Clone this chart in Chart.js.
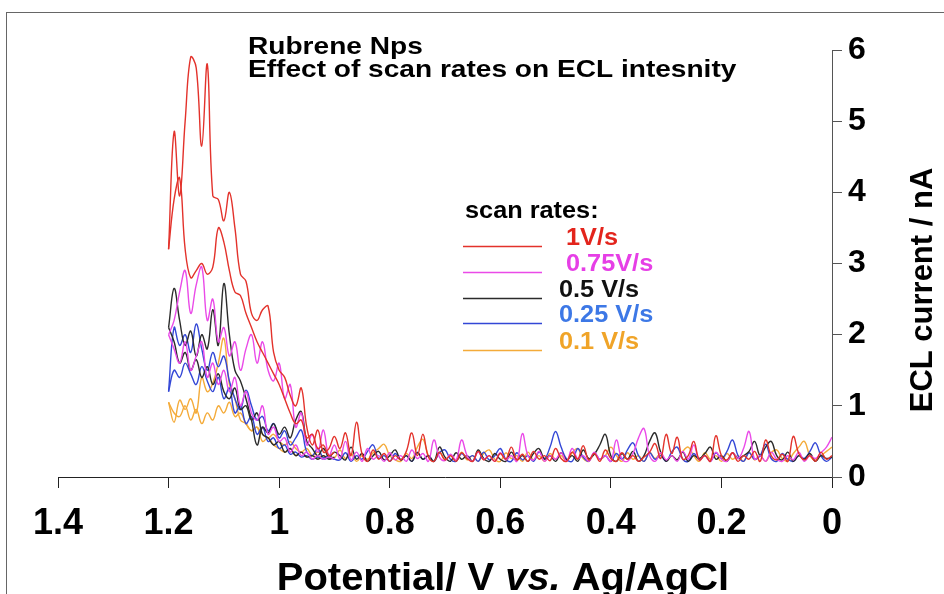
<!DOCTYPE html>
<html lang="en">
  <head>
    <meta charset="utf-8">
    <title>Rubrene Nps ECL</title>
    <style>
      html, body { margin: 0; padding: 0; background: #fff; }
      #wrap { width: 944px; height: 594px; }
    </style>
  </head>
  <body>
    <div id="wrap"><canvas id="myChart" width="944" height="594"></canvas></div>

    <script src="https://cdn.jsdelivr.net/npm/chart.js@4.4.1/dist/chart.umd.min.js"></script>
    <script>
      // potential grid, V vs Ag/AgCl (scan goes 1.2 -> 0)
      const potential = [
        1.20, 1.19, 1.18, 1.17, 1.16, 1.15, 1.14, 1.13, 1.12, 1.11,
        1.10, 1.09, 1.08, 1.07, 1.06, 1.05, 1.04, 1.03, 1.02, 1.01,
        1.00, 0.99, 0.98, 0.97, 0.96, 0.95, 0.94, 0.93, 0.92, 0.91,
        0.90, 0.89, 0.88, 0.87, 0.86, 0.85, 0.84, 0.83, 0.82, 0.81,
        0.80, 0.79, 0.78, 0.77, 0.76, 0.75, 0.74, 0.73, 0.72, 0.71,
        0.70, 0.69, 0.68, 0.67, 0.66, 0.65, 0.64, 0.63, 0.62, 0.61,
        0.60, 0.59, 0.58, 0.57, 0.56, 0.55, 0.54, 0.53, 0.52, 0.51,
        0.50, 0.49, 0.48, 0.47, 0.46, 0.45, 0.44, 0.43, 0.42, 0.41,
        0.40, 0.39, 0.38, 0.37, 0.36, 0.35, 0.34, 0.33, 0.32, 0.31,
        0.30, 0.29, 0.28, 0.27, 0.26, 0.25, 0.24, 0.23, 0.22, 0.21,
        0.20, 0.19, 0.18, 0.17, 0.16, 0.15, 0.14, 0.13, 0.12, 0.11,
        0.10, 0.09, 0.08, 0.07, 0.06, 0.05, 0.04, 0.03, 0.02, 0.01,
        0.00
      ];
      // return branch near the switching potential uses the first 31 points
      const potentialBack = potential.slice(0, 31);

      // ECL current (nA), full trace
      const red = [
        3.2, 4.85, 3.95, 5.0, 5.9, 5.75, 4.65, 5.8, 3.95, 3.9,
        3.6, 4.0, 3.5, 2.85, 2.75, 2.3, 2.2, 2.35, 2.4, 1.75,
        1.5, 1.4, 1.15, 1.0, 1.25, 0.7, 0.45, 0.66, 0.35, 0.4,
        0.57,
        0.4, 0.62, 0.3, 0.77, 0.32, 0.22, 0.38, 0.25, 0.33, 0.22,
        0.3, 0.24, 0.36, 0.62, 0.3, 0.6, 0.28, 0.22, 0.35, 0.24,
        0.3, 0.22, 0.34, 0.26, 0.22, 0.36, 0.24, 0.3, 0.22, 0.33,
        0.25, 0.42, 0.24, 0.32, 0.22, 0.36, 0.25, 0.3, 0.23, 0.4,
        0.26, 0.22, 0.35, 0.25, 0.44, 0.24, 0.33, 0.22, 0.38, 0.26,
        0.22, 0.34, 0.25, 0.3, 0.22, 0.28, 0.35, 0.47, 0.26, 0.6,
        0.33, 0.56, 0.25, 0.3, 0.5, 0.24, 0.3, 0.22, 0.58, 0.3,
        0.24, 0.34, 0.22, 0.3, 0.25, 0.36, 0.22, 0.52, 0.3, 0.24,
        0.32, 0.22, 0.57, 0.33, 0.24, 0.3, 0.22, 0.35, 0.25, 0.3
      ];
      const redBack = [
        3.2, 3.9, 4.2, 3.2, 2.8, 2.9, 3.0, 2.85, 2.95, 3.5,
        3.3, 2.9, 2.6, 2.55, 2.3, 2.1, 1.9, 1.75, 1.6, 1.45,
        1.3, 1.1, 0.9, 0.75, 0.8, 0.55, 0.6, 0.4, 0.45, 0.3,
        0.35
      ];
      const magenta = [
        2.0, 2.2, 2.6, 2.9, 2.3, 2.7, 2.95, 2.2, 2.5, 1.9,
        2.1, 1.7, 1.9, 1.5, 1.8, 2.0, 1.6, 1.9, 1.5, 1.35,
        1.6, 1.1, 1.3, 0.7, 0.9, 0.45, 0.6, 0.35, 0.66, 0.3,
        0.45,
        0.26, 0.5, 0.24, 0.35, 0.22, 0.4, 0.25, 0.3, 0.22, 0.34,
        0.24, 0.3, 0.22, 0.38, 0.26, 0.33, 0.22, 0.52, 0.28, 0.23,
        0.32, 0.24, 0.52, 0.3, 0.22, 0.35, 0.25, 0.3, 0.22, 0.34,
        0.24, 0.3, 0.22, 0.61, 0.3, 0.24, 0.36, 0.22, 0.3, 0.25,
        0.34, 0.22, 0.4, 0.26, 0.3, 0.22, 0.35, 0.25, 0.3, 0.22,
        0.52, 0.25, 0.22, 0.33, 0.55, 0.68, 0.3, 0.22, 0.34, 0.24,
        0.3, 0.22, 0.36, 0.25, 0.45, 0.24, 0.3, 0.22, 0.35, 0.25,
        0.22, 0.34, 0.26, 0.4, 0.64, 0.25, 0.3, 0.22, 0.35, 0.25,
        0.22, 0.3, 0.24, 0.35, 0.22, 0.3, 0.26, 0.34, 0.42, 0.56
      ];
      const magentaBack = [
        2.0, 1.8, 1.6, 1.9, 1.5, 1.7, 1.9, 1.4, 1.6, 1.3,
        1.5, 1.2, 1.4, 1.0, 1.2, 0.9, 0.8, 1.0, 0.6, 0.7,
        0.5, 0.55, 0.35, 0.45, 0.3, 0.35, 0.25, 0.3, 0.25, 0.28,
        0.25
      ];
      const black = [
        2.1, 2.65, 2.2, 1.85, 2.05, 1.7, 2.0, 1.8, 2.35, 1.85,
        2.72, 2.0, 1.5, 1.35, 1.1, 0.8, 0.45, 0.7, 0.62, 0.75,
        0.6, 0.7, 0.55, 0.8, 0.92, 0.5, 0.4, 0.3, 0.4, 0.28,
        0.35,
        0.3, 0.24, 0.42, 0.25, 0.33, 0.22, 0.3, 0.36, 0.24, 0.3,
        0.38, 0.24, 0.3, 0.22, 0.34, 0.25, 0.3, 0.22, 0.42, 0.28,
        0.22, 0.34, 0.25, 0.3, 0.22, 0.38, 0.26, 0.22, 0.33, 0.25,
        0.22, 0.35, 0.24, 0.3, 0.22, 0.33, 0.4, 0.25, 0.3, 0.22,
        0.34, 0.24, 0.3, 0.22, 0.38, 0.26, 0.32, 0.45, 0.6, 0.3,
        0.22, 0.33, 0.25, 0.36, 0.22, 0.3, 0.5, 0.62, 0.35, 0.22,
        0.3, 0.24, 0.35, 0.22, 0.3, 0.26, 0.33, 0.42, 0.25, 0.3,
        0.22, 0.34, 0.26, 0.3, 0.36, 0.5, 0.3, 0.42, 0.5, 0.3,
        0.24, 0.35, 0.22, 0.3, 0.25, 0.33, 0.22, 0.3, 0.26, 0.28
      ];
      const blackBack = [
        2.1, 1.9, 1.6, 1.75, 1.5, 1.65, 1.4, 1.55, 1.3, 1.45,
        1.2, 1.1, 1.25, 0.95, 1.0, 0.8, 0.9, 0.6, 0.55, 0.45,
        0.5, 0.35, 0.4, 0.3, 0.35, 0.28, 0.3, 0.25, 0.3, 0.25,
        0.28
      ];
      const blue = [
        1.2, 2.1, 1.85, 2.0, 1.75, 2.15, 1.8, 1.5, 1.75, 1.55,
        1.7, 1.35, 1.1, 0.95, 1.22, 1.0, 0.8, 0.85, 0.65, 0.75,
        0.55, 0.65, 0.45, 0.55, 0.66, 0.35, 0.3, 0.4, 0.27, 0.3,
        0.25,
        0.24, 0.34, 0.22, 0.3, 0.25, 0.36, 0.45, 0.26, 0.3, 0.22,
        0.33, 0.24, 0.3, 0.22, 0.35, 0.25, 0.3, 0.22, 0.34, 0.38,
        0.25, 0.22, 0.33, 0.26, 0.3, 0.22, 0.35, 0.24, 0.3, 0.4,
        0.25, 0.22, 0.34, 0.24, 0.3, 0.22, 0.35, 0.26, 0.42, 0.64,
        0.42, 0.25, 0.22, 0.4, 0.28, 0.22, 0.34, 0.25, 0.3, 0.22,
        0.33, 0.25, 0.38, 0.48, 0.3, 0.22, 0.34, 0.25, 0.3, 0.22,
        0.35, 0.42, 0.25, 0.22, 0.33, 0.24, 0.3, 0.22, 0.34, 0.26,
        0.36, 0.52, 0.3, 0.22, 0.34, 0.25, 0.3, 0.46, 0.26, 0.22,
        0.33, 0.25, 0.22, 0.3, 0.26, 0.36, 0.48, 0.3, 0.22, 0.28
      ];
      const blueBack = [
        1.2, 1.5, 1.4, 1.6, 1.45, 1.3, 1.55, 1.35, 1.2, 1.4,
        1.1, 1.25, 0.9, 1.0, 0.75, 0.85, 0.6, 0.7, 0.5, 0.55,
        0.4, 0.45, 0.32, 0.35, 0.28, 0.3, 0.25, 0.28, 0.25, 0.27,
        0.25
      ];
      const orange = [
        1.05, 0.77, 1.08, 0.95, 1.1, 0.9, 1.4, 1.2, 1.32, 1.6,
        1.95, 1.3, 1.1, 0.8, 0.75, 0.65, 0.7, 0.6, 0.55, 0.6,
        0.5, 0.45, 0.5, 0.4, 0.35, 0.4, 0.3, 0.35, 0.28, 0.3,
        0.27,
        0.38, 0.26, 0.33, 0.22, 0.3, 0.25, 0.34, 0.4, 0.46, 0.3,
        0.24, 0.22, 0.33, 0.26, 0.42, 0.53, 0.3, 0.22, 0.34, 0.25,
        0.3, 0.22, 0.35, 0.24, 0.3, 0.22, 0.33, 0.38, 0.25, 0.22,
        0.34, 0.26, 0.3, 0.22, 0.35, 0.24, 0.3, 0.22, 0.33, 0.25,
        0.3, 0.22, 0.34, 0.4, 0.26, 0.22, 0.33, 0.25, 0.3, 0.42,
        0.3, 0.22, 0.34, 0.25, 0.3, 0.22, 0.35, 0.26, 0.33, 0.22,
        0.3, 0.24, 0.36, 0.42, 0.3, 0.22, 0.34, 0.25, 0.3, 0.22,
        0.33, 0.25, 0.3, 0.22, 0.35, 0.24, 0.3, 0.22, 0.34, 0.38,
        0.26, 0.22, 0.33, 0.42, 0.5, 0.3, 0.24, 0.3, 0.36, 0.42
      ];
      const orangeBack = [
        1.05, 0.9, 0.85, 1.0, 0.8, 0.95, 0.75, 0.9, 0.8, 1.0,
        0.9, 1.05, 0.85, 0.9, 0.75, 0.65, 0.7, 0.5, 0.55, 0.45,
        0.4, 0.35, 0.4, 0.3, 0.35, 0.28, 0.3, 0.27, 0.3, 0.26,
        0.28
      ];

      const xTicks = [1.4, 1.2, 1, 0.8, 0.6, 0.4, 0.2, 0];
      const yTicks = [0, 1, 2, 3, 4, 5, 6];
      const legendLabels = ['1V/s', '0.75V/s', '0.5 V/s', '0.25 V/s', '0.1 V/s'];

      const lineColors = ['#e3322b', '#ea4ae8', '#2b2b2b', '#3347d6', '#f4ab3a'];
      const textColors = ['#e3241c', '#e63fe6', '#111111', '#3d78e6', '#f0a428'];

      const FONT = "'Liberation Sans', Arial, sans-serif";

      function pts(xs, ys) {
        return ys.map((y, i) => ({ x: xs[i], y: y }));
      }

      function trace(label, xs, ys, color) {
        return {
          label: label,
          data: pts(xs, ys),
          showLine: true,
          borderColor: color,
          borderWidth: 1.4,
          pointRadius: 0,
          tension: 0.4,
          fill: false
        };
      }

      const series = [
        [red, redBack], [magenta, magentaBack], [black, blackBack],
        [blue, blueBack], [orange, orangeBack]
      ];
      const datasets = [];
      series.forEach((s, i) => {
        datasets.push(trace(legendLabels[i], potential, s[0], lineColors[i]));
        datasets.push(trace(legendLabels[i] + ' back', potentialBack, s[1], lineColors[i]));
      });

      function stretchText(ctx, txt, x, y, sx) {
        ctx.save();
        ctx.translate(x, y);
        ctx.scale(sx, 1);
        ctx.fillText(txt, 0, 0);
        ctx.restore();
      }

      // frame, titles, legend and axis titles
      const decor = {
        id: 'decor',
        beforeDraw(chart) {
          const ctx = chart.ctx;
          ctx.save();
          ctx.strokeStyle = '#666';
          ctx.lineWidth = 1;
          ctx.strokeRect(6.5, 12.5, 1000, 1000);
          ctx.restore();
        },
        afterDraw(chart) {
          const ctx = chart.ctx;
          ctx.save();
          ctx.textAlign = 'left';
          ctx.textBaseline = 'alphabetic';
          ctx.fillStyle = '#000';
          ctx.font = 'bold 24px ' + FONT;
          stretchText(ctx, 'Rubrene Nps', 248, 54, 1.17);
          stretchText(ctx, 'Effect of scan rates on ECL intesnity', 248, 77, 1.17);

          // legend
          ctx.font = 'bold 23px ' + FONT;
          stretchText(ctx, 'scan rates:', 465, 218, 1.1);
          const lineY = [246, 272, 298, 323, 350];
          const textX = [566, 566, 559, 559, 559];
          legendLabels.forEach((lab, i) => {
            ctx.strokeStyle = lineColors[i];
            ctx.lineWidth = 1.3;
            ctx.beginPath();
            ctx.moveTo(463, lineY[i] + 0.5);
            ctx.lineTo(542, lineY[i] + 0.5);
            ctx.stroke();
            ctx.fillStyle = textColors[i];
            stretchText(ctx, lab, textX[i], lineY[i] - 1, 1.1);
          });

          // x axis title with italic "vs."
          const xs = chart.scales.x;
          const parts = [
            ['Potential/ V ', 'bold 38px ' + FONT],
            ['vs.', 'italic bold 38px ' + FONT],
            [' Ag/AgCl', 'bold 38px ' + FONT]
          ];
          const sx = 1.05;
          let total = 0;
          parts.forEach(p => { ctx.font = p[1]; total += ctx.measureText(p[0]).width * sx; });
          let cx = (xs.left + xs.right) / 2 + 58 - total / 2;
          ctx.fillStyle = '#000';
          parts.forEach(p => {
            ctx.font = p[1];
            stretchText(ctx, p[0], cx, 590, sx);
            cx += ctx.measureText(p[0]).width * sx;
          });

          // y axis title, reading bottom to top
          ctx.save();
          ctx.translate(932, 290);
          ctx.rotate(-Math.PI / 2);
          ctx.textAlign = 'center';
          ctx.font = 'bold 31px ' + FONT;
          ctx.fillText('ECL current / nA', 0, 0);
          ctx.restore();
          ctx.restore();
        }
      };

      const ctx = document.getElementById('myChart').getContext('2d');
      const chart = new Chart(ctx, {
        type: 'scatter',
        data: { datasets: datasets },
        options: {
          responsive: false,
          animation: false,
          layout: { padding: { left: 58, top: 50, right: 0, bottom: 0 } },
          plugins: { legend: { display: false }, tooltip: { enabled: false } },
          scales: {
            x: {
              type: 'linear',
              reverse: true,
              min: 0,
              max: 1.4,
              afterBuildTicks: s => { s.ticks = xTicks.map(v => ({ value: v })); },
              afterFit: s => { s.height = 117; },
              ticks: {
                color: '#000',
                font: { family: FONT, size: 36, weight: 'bold' },
                padding: 14,
                maxRotation: 0,
                autoSkip: false,
                callback: v => String(+(+v).toFixed(1))
              },
              grid: { drawOnChartArea: false, drawTicks: true, tickLength: 11, color: '#222' },
              border: { display: true, color: '#222', width: 1 }
            },
            y: {
              type: 'linear',
              position: 'right',
              min: 0,
              max: 6,
              afterBuildTicks: s => { s.ticks = yTicks.map(v => ({ value: v })); },
              afterFit: s => { s.width = 112; },
              ticks: {
                color: '#000',
                font: { family: FONT, size: 32, weight: 'bold' },
                padding: 6,
                autoSkip: false,
                callback: v => String(v)
              },
              grid: { drawOnChartArea: false, drawTicks: true, tickLength: 10, color: '#555' },
              border: { display: true, color: '#555', width: 1 }
            }
          }
        },
        plugins: [decor]
      });
    </script>
  </body>
</html>
